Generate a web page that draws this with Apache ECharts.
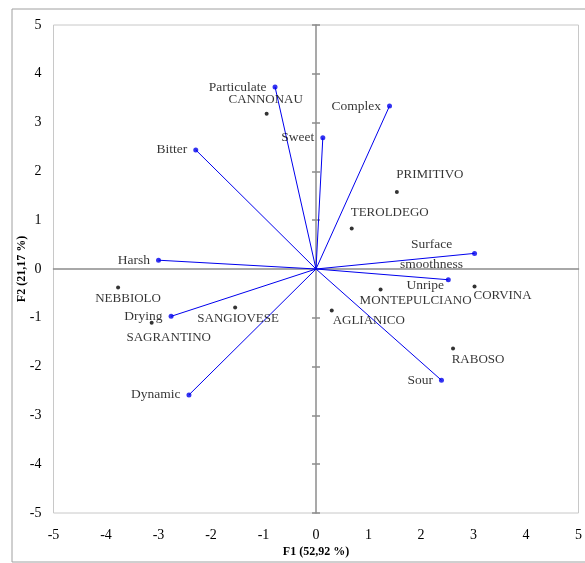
<!DOCTYPE html>
<html>
<head>
<meta charset="utf-8">
<script src="https://cdn.jsdelivr.net/npm/echarts@6/dist/echarts.min.js"></script>
<style>
html, body { margin: 0; padding: 0; background: #fff; }
#chart { width: 585px; height: 563px; }
</style>
</head>
<body>
<div id="chart"></div>
<script>
// axes range
var axisMin = -5;
var axisMax = 5;
var axisStep = 1;

// wines (observations)
var wineNames = ['CANNONAU', 'PRIMITIVO', 'TEROLDEGO', 'NEBBIOLO', 'SAGRANTINO', 'SANGIOVESE', 'MONTEPULCIANO', 'CORVINA', 'AGLIANICO', 'RABOSO'];
var wineF1 = [-0.94, 1.54, 0.68, -3.77, -3.13, -1.54, 1.23, 3.02, 0.30, 2.61];
var wineF2 = [3.18, 1.58, 0.83, -0.38, -1.10, -0.79, -0.42, -0.36, -0.85, -1.63];

// sensory attributes (variables)
var attrNames = ['Particulate', 'Bitter', 'Harsh', 'Sweet', 'Complex', 'Surface\nsmoothness', 'Unripe', 'Sour', 'Drying', 'Dynamic'];
var attrF1 = [-0.78, -2.29, -3.00, 0.13, 1.40, 3.02, 2.52, 2.39, -2.76, -2.42];
var attrF2 = [3.73, 2.44, 0.18, 2.69, 3.34, 0.32, -0.22, -2.28, -0.97, -2.58];

var fontName = '"Liberation Serif", "DejaVu Serif", serif';

// label placement (text centre offset from the dot, px)
var wineLabelOffset = {
    'CANNONAU': [-1, -14],
    'PRIMITIVO': [33, -17],
    'TEROLDEGO': [38, -16],
    'NEBBIOLO': [10, 11],
    'SAGRANTINO': [17, 15],
    'SANGIOVESE': [3, 11],
    'MONTEPULCIANO': [35, 11],
    'CORVINA': [28, 9],
    'AGLIANICO': [37, 10],
    'RABOSO': [25, 11]
};
// attributes whose label is not simply left of the arrow tip
var attrLabelOffset = {
    'Surface\nsmoothness': [-43, 1],
    'Unripe': [-23, 6]
};

var wineData = [];
for (var i = 0; i < wineNames.length; i++) {
    wineData.push({
        name: wineNames[i],
        value: [wineF1[i], wineF2[i]],
        label: { offset: wineLabelOffset[wineNames[i]] }
    });
}

var attrData = [];
var attrDataCentered = [];
var vectorSeries = [];
for (var j = 0; j < attrNames.length; j++) {
    vectorSeries.push({
        type: 'line',
        data: [[0, 0], [attrF1[j], attrF2[j]]],
        showSymbol: false,
        lineStyle: { color: '#0000ee', width: 1 },
        itemStyle: { color: '#0000ee' },
        silent: true,
        z: 3
    });
    var off = attrLabelOffset[attrNames[j]];
    if (off) {
        attrDataCentered.push({ name: attrNames[j], value: [attrF1[j], attrF2[j]], label: { offset: off } });
    } else {
        attrData.push({ name: attrNames[j], value: [attrF1[j], attrF2[j]] });
    }
}

function baseAxis(extra) {
    var ax = {
        type: 'value',
        min: axisMin,
        max: axisMax,
        interval: axisStep,
        splitLine: { show: false },
        axisTick: { show: false },
        axisLabel: { show: false },
        axisLine: { show: false, onZero: false }
    };
    for (var k in extra) ax[k] = extra[k];
    return ax;
}

var option = {
    animation: false,
    backgroundColor: '#fff',
    textStyle: { fontFamily: fontName },
    graphic: [{
        type: 'rect',
        shape: { x: 12, y: 9, width: 580, height: 553 },
        style: { fill: 'none', stroke: '#a0a0a0', lineWidth: 1 },
        silent: true
    }],
    grid: {
        left: 53.5,
        right: 6.5,
        top: 25,
        bottom: 50,
        show: true,
        borderColor: '#c8c8c8',
        borderWidth: 1
    },
    xAxis: [
        baseAxis({
            position: 'bottom',
            name: 'F1 (52,92 %)',
            nameLocation: 'middle',
            nameGap: 33,
            nameMoveOverlap: false,
            nameTextStyle: { fontFamily: fontName, fontWeight: 'bold', fontSize: 12, color: '#000' },
            axisLabel: { show: true, margin: 15, fontFamily: fontName, fontSize: 14, color: '#000' }
        }),
        baseAxis({
            axisLine: { show: true, onZero: true, onZeroAxisIndex: 0, lineStyle: { color: '#8c8c8c', width: 1.5 } }
        })
    ],
    yAxis: [
        baseAxis({
            position: 'left',
            name: 'F2 (21,17 %)',
            nameLocation: 'middle',
            nameGap: 26,
            nameMoveOverlap: false,
            nameTextStyle: { fontFamily: fontName, fontWeight: 'bold', fontSize: 12, color: '#000' },
            axisLabel: { show: true, margin: 12, fontFamily: fontName, fontSize: 14, color: '#000' }
        }),
        baseAxis({
            axisLine: { show: true, onZero: true, onZeroAxisIndex: 0, lineStyle: { color: '#8c8c8c', width: 1.5 } },
            axisTick: { show: true, inside: false, length: 4, lineStyle: { color: '#8c8c8c', width: 1.5 } }
        }),
        baseAxis({
            axisLine: { show: false, onZero: true, onZeroAxisIndex: 0 },
            axisTick: { show: true, inside: true, length: 4, lineStyle: { color: '#8c8c8c', width: 1.5 } }
        })
    ],
    series: vectorSeries.concat([
        {
            name: 'attributes',
            type: 'scatter',
            data: attrData,
            symbolSize: 5,
            itemStyle: { color: '#0000ee' },
            label: {
                show: true,
                position: 'left',
                distance: 6,
                formatter: '{b}',
                fontFamily: fontName,
                fontSize: 13.5,
                color: '#000'
            },
            z: 4
        },
        {
            name: 'attributes2',
            type: 'scatter',
            data: attrDataCentered,
            symbolSize: 5,
            itemStyle: { color: '#0000ee' },
            label: {
                show: true,
                position: 'inside',
                align: 'center',
                formatter: '{b}',
                fontFamily: fontName,
                fontSize: 13.5,
                lineHeight: 20,
                color: '#000'
            },
            z: 4
        },
        {
            name: 'wines',
            type: 'scatter',
            data: wineData,
            symbolSize: 4,
            itemStyle: { color: '#000' },
            label: {
                show: true,
                position: 'inside',
                formatter: '{b}',
                fontFamily: fontName,
                fontSize: 13,
                color: '#000'
            },
            z: 5
        }
    ])
};

var chart = echarts.init(document.getElementById('chart'));
chart.setOption(option);
window.addEventListener('resize', chart.resize);
</script>
</body>
</html>
